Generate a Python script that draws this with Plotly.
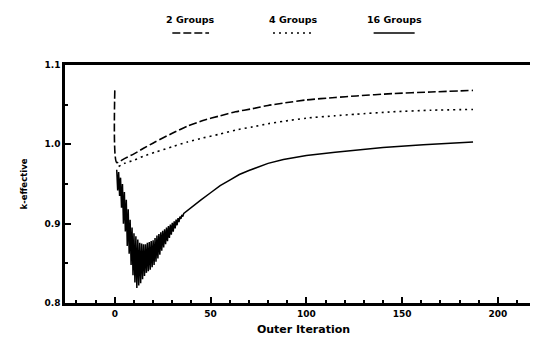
import plotly.graph_objects as go

# 2 Groups (long dashed)
it_2g = [0, 1, 5, 10, 15, 21, 30, 38, 46, 55, 63, 72, 80, 88, 100, 115, 126, 145, 165, 187]
k_2g = [1.068, 0.977, 0.982, 0.988, 0.995, 1.003, 1.014, 1.023, 1.030, 1.036, 1.041, 1.045,
        1.049, 1.052, 1.056, 1.059, 1.061, 1.064, 1.066, 1.068]

# 4 Groups (dotted)
it_4g = [2, 5, 10, 15, 21, 30, 38, 46, 55, 63, 72, 80, 88, 100, 115, 126, 145, 165, 187]
k_4g = [0.972, 0.976, 0.980, 0.985, 0.990, 0.997, 1.003, 1.008, 1.013, 1.018, 1.022, 1.026,
        1.029, 1.033, 1.036, 1.038, 1.041, 1.043, 1.044]

# 16 Groups (solid, oscillating early; half-iteration samples)
it_16g = [1.0, 1.5, 2.0, 2.5, 3.0, 3.5, 4.0, 4.5, 5.0, 5.5, 6.0, 6.5, 7.0, 7.5, 8.0, 8.5,
          9.0, 9.5, 10.0, 10.5, 11.0, 11.5, 12.0, 12.5, 13.0, 13.5, 14.0, 14.5, 15.0, 15.5,
          16.0, 16.5, 17.0, 17.5, 18.0, 18.5, 19.0, 19.5, 20.0, 20.5, 21.0, 21.5, 22.0, 22.5,
          23.0, 23.5, 24.0, 24.5, 25.0, 25.5, 26.0, 26.5, 27.0, 27.5, 28.0, 28.5, 29.0, 29.5,
          30.0, 30.5, 31.0, 31.5, 32.0, 32.5, 33.0, 33.5, 34.0, 34.5, 35.0, 35.5, 36.0,
          38, 40, 45, 50, 55, 60, 65, 70, 75, 80, 88, 100, 115, 126, 140, 161, 175, 187]
k_16g = [0.968, 0.942, 0.965, 0.935, 0.958, 0.920, 0.950, 0.900, 0.940, 0.890, 0.930, 0.872,
         0.918, 0.862, 0.905, 0.848, 0.895, 0.835, 0.888, 0.826, 0.884, 0.819, 0.880, 0.822,
         0.876, 0.825, 0.875, 0.830, 0.874, 0.834, 0.874, 0.838, 0.876, 0.840, 0.877, 0.842,
         0.878, 0.845, 0.879, 0.848, 0.882, 0.852, 0.885, 0.856, 0.887, 0.861, 0.889, 0.866,
         0.891, 0.870, 0.893, 0.874, 0.895, 0.878, 0.897, 0.882, 0.899, 0.886, 0.901, 0.890,
         0.903, 0.894, 0.905, 0.898, 0.907, 0.902, 0.909, 0.906, 0.911, 0.909, 0.913,
         0.917, 0.921, 0.930, 0.939, 0.948, 0.955, 0.962, 0.967, 0.972, 0.976, 0.981, 0.986,
         0.990, 0.993, 0.996, 0.9995, 1.001, 1.003]

legend_names = ["2 Groups", "4 Groups", "16 Groups"]
x_ticks = [0, 50, 100, 150, 200]
y_ticks = [0.8, 0.9, 1.0, 1.1]

FONT = "DejaVu Sans"
DASH_2G = "8px,3px"
DASH_4G = "2px,4px"

fig = go.Figure()
fig.add_trace(go.Scatter(x=it_2g, y=k_2g, mode="lines", name=legend_names[0],
                         line=dict(color="black", width=1.6, dash=DASH_2G, shape="spline", smoothing=0.6)))
fig.add_trace(go.Scatter(x=it_4g, y=k_4g, mode="lines", name=legend_names[1],
                         line=dict(color="black", width=1.6, dash=DASH_4G, shape="spline", smoothing=0.6)))
fig.add_trace(go.Scatter(x=it_16g, y=k_16g, mode="lines", name=legend_names[2],
                         line=dict(color="black", width=1.5)))

# legend drawn as text above line samples
leg = [
    (legend_names[0], 0.2625, 0.225, 0.302, DASH_2G),
    (legend_names[1], 0.479, 0.436, 0.521, DASH_4G),
    (legend_names[2], 0.69, 0.647, 0.733, "solid"),
]
for name, cx, x0, x1, dash in leg:
    fig.add_annotation(text=name, x=cx, y=1.19, xref="paper", yref="paper",
                       showarrow=False, xanchor="center", yanchor="middle",
                       font=dict(family=FONT, size=9.5, color="black", weight="bold"))
    fig.add_shape(type="line", xref="paper", yref="paper", x0=x0, x1=x1,
                  y0=1.134, y1=1.134, line=dict(color="black", width=1.5, dash=dash))

fig.update_layout(
    width=538, height=339,
    margin=dict(l=57, r=1, t=57, b=44),
    paper_bgcolor="white", plot_bgcolor="white",
    showlegend=False,
    font=dict(family=FONT, size=9, color="black", weight="bold"),
)
fig.update_xaxes(
    range=[-26, 223], tickvals=x_ticks, ticks="inside", ticklen=6, tickwidth=1.5,
    tickcolor="black", showgrid=False, zeroline=False,
    showline=True, linewidth=2.5, linecolor="black", mirror=True,
    minor=dict(dtick=10, tick0=0, ticks="inside", ticklen=3, tickcolor="black", showgrid=False),
    title=dict(text="Outer Iteration", font=dict(family=FONT, size=11, color="black", weight="bold"), standoff=8),
    tickfont=dict(family=FONT, size=9, color="black", weight="bold"),
)
fig.update_yaxes(
    range=[0.8, 1.1], tickvals=y_ticks, ticktext=["0.8", "0.9", "1.0", "1.1"],
    ticks="inside", ticklen=6, tickwidth=1.5,
    tickcolor="black", showgrid=False, zeroline=False,
    showline=True, linewidth=2.5, linecolor="black", mirror=True,
    minor=dict(dtick=0.05, tick0=0.8, ticks="inside", ticklen=3, tickcolor="black", showgrid=False),
    title=dict(text="k-effective", font=dict(family=FONT, size=8.5, color="black", weight="bold"), standoff=16),
    tickfont=dict(family=FONT, size=9, color="black", weight="bold"),
)

fig.write_html("out.html")
